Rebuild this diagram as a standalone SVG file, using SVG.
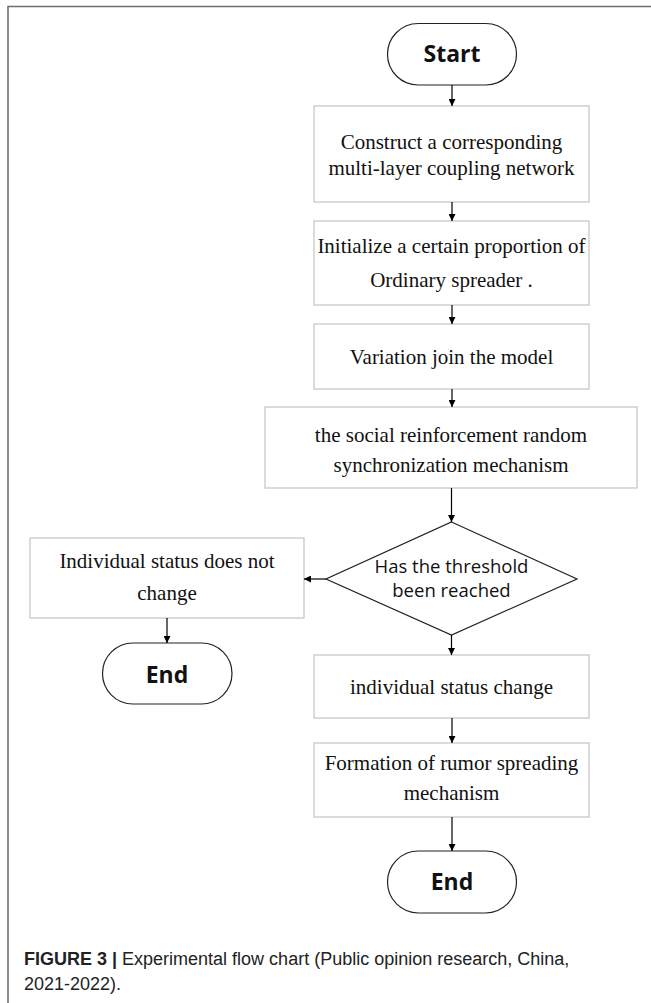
<svg xmlns="http://www.w3.org/2000/svg" width="651" height="1003" viewBox="0 0 651 1003">
<defs>
<marker id="arr" viewBox="0 0 10 10" refX="10" refY="5" markerWidth="7" markerHeight="7" markerUnits="userSpaceOnUse" orient="auto">
<path d="M0,0 L10,5 L0,10 z" fill="#000"/>
</marker>
<style>
.box{fill:#fff;stroke:#c4c4c4;stroke-width:1.2}
.term{fill:#fff;stroke:#222;stroke-width:1.2}
.dia{fill:#fff;stroke:#222;stroke-width:1.2}
.t{font-family:"Liberation Serif","Times New Roman",serif;font-size:21px;fill:#111;text-anchor:middle}
.tb{font-family:"Open Sans","Liberation Sans",sans-serif;font-size:23px;font-weight:bold;fill:#111;text-anchor:middle}
.td{font-family:"Open Sans","Liberation Sans",sans-serif;font-size:18.5px;fill:#111;text-anchor:middle}
.cap{font-family:"Liberation Sans",Arial,sans-serif;font-size:18px;fill:#222}
.c{stroke:#000;stroke-width:1.2;fill:none;marker-end:url(#arr)}
</style>
</defs>
<rect width="651" height="1003" fill="#fff"/>
<path d="M8 1003 V6.5 H651" fill="none" stroke="#6e6e6e" stroke-width="1.6"/>

<g id="start">
<rect class="term" x="387.5" y="23.5" width="129" height="61.5" rx="30.75"/>
<text class="tb" x="452" y="62">Start</text>
</g>
<g id="construct">
<rect class="box" x="314" y="106" width="275" height="96"/>
<text class="t" x="451.5" y="149">Construct a corresponding</text>
<text class="t" x="451.5" y="175">multi-layer coupling network</text>
</g>
<g id="initialize">
<rect class="box" x="314" y="221" width="275" height="84"/>
<text class="t" x="451.5" y="253">Initialize a certain proportion of</text>
<text class="t" x="451.5" y="287">Ordinary spreader .</text>
</g>
<g id="variation">
<rect class="box" x="314" y="324" width="275" height="65"/>
<text class="t" x="451.5" y="364">Variation join the model</text>
</g>
<g id="social">
<rect class="box" x="265" y="407" width="372" height="81"/>
<text class="t" x="451" y="442">the social reinforcement random</text>
<text class="t" x="451" y="472">synchronization mechanism</text>
</g>
<g id="threshold">
<polygon class="dia" points="451.5,522 577,579 451.5,635 326,579"/>
<text class="td" x="451.5" y="573">Has the threshold</text>
<text class="td" x="451.5" y="597">been reached</text>
</g>
<g id="nochange">
<rect class="box" x="30" y="538" width="274" height="80"/>
<text class="t" x="167" y="568">Individual status does not</text>
<text class="t" x="167" y="600">change</text>
</g>
<g id="end-left">
<rect class="term" x="102.5" y="643" width="129.5" height="61" rx="30.5"/>
<text class="tb" x="167" y="683">End</text>
</g>
<g id="statuschange">
<rect class="box" x="314" y="655" width="275" height="63"/>
<text class="t" x="451.5" y="694">individual status change</text>
</g>
<g id="formation">
<rect class="box" x="314" y="743" width="275" height="74"/>
<text class="t" x="451.5" y="770">Formation of rumor spreading</text>
<text class="t" x="451.5" y="800">mechanism</text>
</g>
<g id="end-bottom">
<rect class="term" x="387.5" y="851" width="129" height="62" rx="31"/>
<text class="tb" x="452" y="890">End</text>
</g>

<g id="connectors">
<line class="c" x1="452" y1="85" x2="452" y2="106"/>
<line class="c" x1="452" y1="202" x2="452" y2="221"/>
<line class="c" x1="452" y1="305" x2="452" y2="324"/>
<line class="c" x1="452" y1="389" x2="452" y2="407"/>
<line class="c" x1="451.5" y1="488" x2="451.5" y2="522"/>
<line class="c" x1="326" y1="579" x2="304" y2="579"/>
<line class="c" x1="167" y1="618" x2="167" y2="643"/>
<line class="c" x1="451.5" y1="635" x2="451.5" y2="655"/>
<line class="c" x1="452" y1="718" x2="452" y2="743"/>
<line class="c" x1="452" y1="817" x2="452" y2="851"/>
</g>

<g id="caption">
<text class="cap" x="24" y="965"><tspan font-weight="bold">FIGURE 3 |</tspan> Experimental flow chart (Public opinion research, China,</text>
<text class="cap" x="24" y="990">2021-2022).</text>
</g>
</svg>
